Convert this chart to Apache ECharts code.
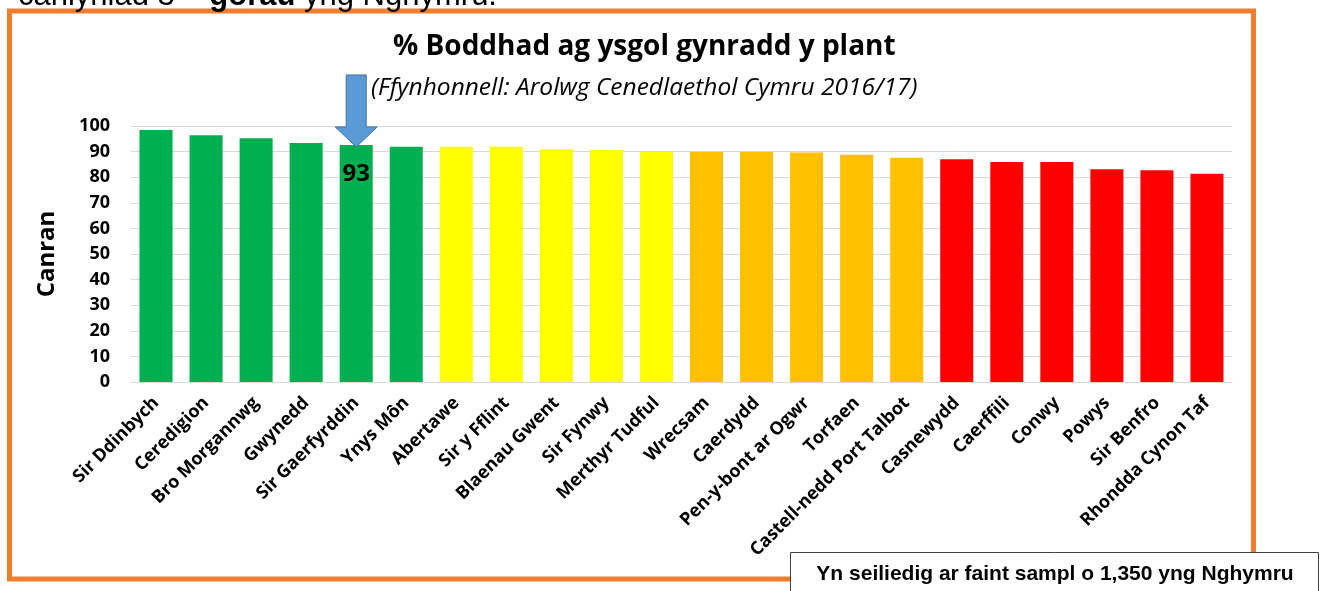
<!DOCTYPE html>
<html>
<head>
<meta charset="utf-8">
<script src="https://cdn.jsdelivr.net/npm/echarts@6/dist/echarts.min.js"></script>
<style>
  html, body { margin: 0; padding: 0; background: #fff; }
  #chart { width: 1325px; height: 591px; }
</style>
</head>
<body>
<div id="chart"></div>
<script>
// awdurdodau lleol, wedi'u trefnu o'r uchaf i'r isaf
const areas = [
  "Sir Ddinbych", "Ceredigion", "Bro Morgannwg", "Gwynedd", "Sir Gaerfyrddin",
  "Ynys Môn", "Abertawe", "Sir y Fflint", "Blaenau Gwent", "Sir Fynwy",
  "Merthyr Tudful", "Wrecsam", "Caerdydd", "Pen-y-bont ar Ogwr", "Torfaen",
  "Castell-nedd Port Talbot", "Casnewydd", "Caerffili", "Conwy", "Powys",
  "Sir Benfro", "Rhondda Cynon Taf"
];
const satisfaction = [
  98.4, 96.4, 95.2, 93.4, 92.6,
  91.9, 91.9, 91.9, 90.9, 90.6,
  89.8, 89.8, 89.8, 89.6, 88.8,
  87.6, 87.0, 85.9, 85.9, 83.1,
  82.7, 81.3
];
// nifer yr ardaloedd ym mhob grŵp lliw (gwyrdd, melyn, oren, coch)
const groupSizes = [6, 5, 5, 6];
const highlighted = "Sir Gaerfyrddin";
const yTicks = [0, 10, 20, 30, 40, 50, 60, 70, 80, 90, 100];

const groupColors = ["#00B050", "#FFFF00", "#FFC000", "#FF0000"];

function colorFor(i) {
  let acc = 0;
  for (let g = 0; g < groupSizes.length; g++) {
    acc += groupSizes[g];
    if (i < acc) return groupColors[g];
  }
  return groupColors[groupColors.length - 1];
}

const chart = echarts.init(document.getElementById("chart"));

const barData = satisfaction.map((v, i) => {
  const item = { value: v, itemStyle: { color: colorFor(i) } };
  if (areas[i] === highlighted) {
    item.label = {
      show: true,
      position: "insideTop",
      distance: 17,
      formatter: (p) => Math.round(p.value),
      color: "#000",
      fontFamily: "Open Sans",
      fontWeight: "bold",
      fontSize: 24
    };
  }
  return item;
});

const option = {
  backgroundColor: "#fff",
  animation: false,
  title: [
    {
      text: "% Boddhad ag ysgol gynradd y plant",
      left: 388,
      top: 28,
      textStyle: {
        fontFamily: "Open Sans",
        fontWeight: "bold",
        fontSize: 28,
        color: "#000"
      }
    },
    {
      text: "(Ffynhonnell: Arolwg Cenedlaethol Cymru 2016/17)",
      left: 366,
      top: 71,
      textStyle: {
        fontFamily: "Open Sans",
        fontStyle: "italic",
        fontWeight: "normal",
        fontSize: 24.5,
        color: "#000"
      }
    }
  ],
  grid: {
    left: 131,
    right: 93,
    top: 126,
    bottom: 209
  },
  xAxis: {
    type: "category",
    data: areas,
    axisTick: { show: false },
    axisLine: { lineStyle: { color: "#D9D9D9", width: 1 } },
    axisLabel: {
      rotate: 45,
      interval: 0,
      margin: 18,
      color: "#000",
      fontFamily: "Open Sans",
      fontWeight: "bold",
      fontSize: 18
    }
  },
  yAxis: {
    type: "value",
    min: yTicks[0],
    max: yTicks[yTicks.length - 1],
    interval: yTicks[1] - yTicks[0],
    name: "Canran",
    nameLocation: "middle",
    nameGap: 72,
    nameTextStyle: {
      fontFamily: "Open Sans",
      fontWeight: "bold",
      fontSize: 24,
      color: "#000"
    },
    axisLine: { show: false },
    axisTick: { show: false },
    splitLine: { lineStyle: { color: "#D9D9D9", width: 1 } },
    axisLabel: {
      margin: 21,
      color: "#000",
      fontFamily: "Open Sans",
      fontWeight: "bold",
      fontSize: 18
    }
  },
  series: [
    {
      type: "bar",
      data: barData,
      barCategoryGap: "34%"
    }
  ]
};

chart.setOption(option);

// saeth uwchben y bar a amlygwyd, wedi'i gosod o'r echelinau
const hi = areas.indexOf(highlighted);
const tip = chart.convertToPixel({ gridIndex: 0 }, [hi, satisfaction[hi]]);
const cx = tip[0];
const tipY = tip[1] + 2;
const headH = 20, headW = 42, shaftW = 20, shaftH = 52;
const shaftTop = tipY - headH - shaftH;
const baseY = tipY - headH;

chart.setOption({
  graphic: [
    {
      type: "polygon",
      shape: {
        points: [
          [cx - shaftW / 2, shaftTop],
          [cx + shaftW / 2, shaftTop],
          [cx + shaftW / 2, baseY],
          [cx + headW / 2, baseY],
          [cx, tipY],
          [cx - headW / 2, baseY],
          [cx - shaftW / 2, baseY]
        ]
      },
      style: { fill: "#5B9BD5", stroke: "#41719C", lineWidth: 1 },
      z: 100
    },
    // ffrâm oren
    {
      type: "rect",
      shape: { x: 9.5, y: 11, width: 1244, height: 568 },
      style: { fill: null, stroke: "#ED7D31", lineWidth: 5 },
      z: 50
    },
    // testun uwchben (wedi'i dorri)
    {
      type: "text",
      x: 18,
      y: -4,
      style: {
        text: "{n|canlyniad 3 – }{b|gorau}{n| yng Nghymru.}",
        verticalAlign: "middle",
        rich: {
          n: { fontFamily: "Liberation Sans", fontSize: 31, color: "#000" },
          b: { fontFamily: "Liberation Sans", fontSize: 31, fontWeight: "bold", color: "#000" }
        }
      },
      z: 60
    },
    // blwch sampl
    {
      type: "rect",
      shape: { x: 790.5, y: 552.5, width: 528, height: 50 },
      style: { fill: "#fff", stroke: "#404040", lineWidth: 1 },
      z: 70
    },
    {
      type: "text",
      x: 1055,
      y: 574,
      style: {
        text: "Yn seiliedig ar faint sampl o 1,350 yng Nghymru",
        fontFamily: "Liberation Sans",
        fontWeight: "bold",
        fontSize: 21,
        fill: "#000",
        align: "center",
        verticalAlign: "middle"
      },
      z: 71
    }
  ]
});
</script>
</body>
</html>
